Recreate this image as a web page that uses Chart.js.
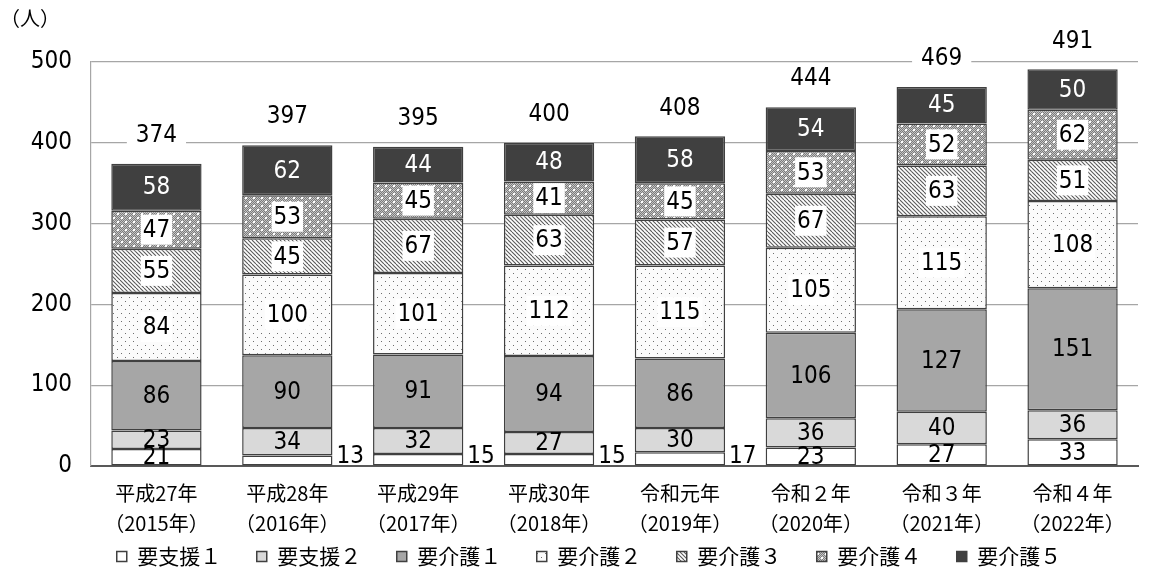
<!DOCTYPE html>
<html>
<head>
<meta charset="utf-8">
<script src="https://cdn.jsdelivr.net/npm/chart.js@4.4.0/dist/chart.umd.min.js"></script>
<style>
  html, body { margin: 0; padding: 0; background: #fff; }
  #wrap { width: 1155px; height: 577px; position: relative; }
</style>
</head>
<body>
<div id="wrap"><canvas id="myChart"></canvas></div>
<script>
const categories = [
  ['平成27年', '（2015年）'],
  ['平成28年', '（2016年）'],
  ['平成29年', '（2017年）'],
  ['平成30年', '（2018年）'],
  ['令和元年', '（2019年）'],
  ['令和２年', '（2020年）'],
  ['令和３年', '（2021年）'],
  ['令和４年', '（2022年）']
];
const seriesNames = ['要支援１', '要支援２', '要介護１', '要介護２', '要介護３', '要介護４', '要介護５'];
const shien1  = [21, 13, 15, 15, 17, 23, 27, 33];
const shien2  = [23, 34, 32, 27, 30, 36, 40, 36];
const kaigo1  = [86, 90, 91, 94, 86, 106, 127, 151];
const kaigo2  = [84, 100, 101, 112, 115, 105, 115, 108];
const kaigo3  = [55, 45, 67, 63, 57, 67, 63, 51];
const kaigo4  = [47, 53, 45, 41, 45, 53, 52, 62];
const kaigo5  = [58, 62, 44, 48, 58, 54, 45, 50];
const yTicks = [0, 100, 200, 300, 400, 500];
const unitLabel = '（人）';

const numFont = '"Liberation Sans Narrow", "DejaVu Sans Condensed", sans-serif';
const jpFont = '"Noto Sans CJK JP", sans-serif';

// small fill patterns like the office chart
function makePattern(kind) {
  const c = document.createElement('canvas');
  c.width = 8; c.height = 8;
  const g = c.getContext('2d');
  if (kind === 'dots') {
    g.fillStyle = '#fbfbfb'; g.fillRect(0, 0, 8, 8);
    g.fillStyle = '#6e6e6e';
    g.fillRect(1, 1, 1, 1); g.fillRect(5, 5, 1, 1);
  } else if (kind === 'diag') {
    g.fillStyle = '#fff'; g.fillRect(0, 0, 8, 8);
    g.strokeStyle = '#5a5a5a'; g.lineWidth = 1.1;
    for (let x = -8; x <= 8; x += 4) {
      g.beginPath(); g.moveTo(x, 0); g.lineTo(x + 8, 8); g.stroke();
    }
  } else if (kind === 'dense') {
    for (let y = 0; y < 8; y++) {
      for (let x = 0; x < 8; x++) {
        g.fillStyle = (x + y) % 2 ? '#7c7c7c' : '#c4c4c4';
        g.fillRect(x, y, 1, 1);
      }
    }
    g.fillStyle = '#fff';
    g.fillRect(1, 1, 2, 2); g.fillRect(5, 5, 2, 2);
  }
  return g.createPattern(c, 'repeat');
}

const seriesData = [shien1, shien2, kaigo1, kaigo2, kaigo3, kaigo4, kaigo5];
const fills = ['#ffffff', '#d9d9d9', '#a6a6a6', makePattern('dots'), makePattern('diag'), makePattern('dense'), '#404040'];
const boxedLabels = [false, false, false, true, true, true, false];
const textColors = ['#000', '#000', '#000', '#000', '#000', '#000', '#fff'];

const totals = categories.map((c, i) => seriesData.reduce((s, arr) => s + arr[i], 0));

const labelPlugin = {
  id: 'labels',
  afterLayout(chart) {
    // legend sits a little right of centre in the original
    chart.legend.left += 20;
    chart.legend.right += 20;
  },
  afterDatasetsDraw(chart) {
    const ctx = chart.ctx;
    ctx.save();
    ctx.font = '24px ' + numFont;
    ctx.textBaseline = 'middle';
    chart.data.datasets.forEach((ds, di) => {
      const meta = chart.getDatasetMeta(di);
      meta.data.forEach((bar, i) => {
        const v = ds.data[i];
        const txt = String(v);
        const w = ctx.measureText(txt).width;
        const cy = (bar.y + bar.base) / 2;
        if (di === 0 && v < 20) {
          // too thin: put it beside the bar
          ctx.textAlign = 'left';
          ctx.fillStyle = '#000';
          ctx.fillText(txt, bar.x + bar.width / 2 + 4, bar.base - 9);
          return;
        }
        ctx.textAlign = 'center';
        if (boxedLabels[di]) {
          ctx.fillStyle = '#fff';
          ctx.fillRect(bar.x - w / 2 - 2, cy - 15, w + 4, 30);
        }
        ctx.fillStyle = textColors[di];
        ctx.fillText(txt, bar.x, cy + 1);
      });
    });
    // totals above the stacks
    const top = chart.getDatasetMeta(chart.data.datasets.length - 1);
    top.data.forEach((bar, i) => {
      const txt = String(totals[i]);
      const w = ctx.measureText(txt).width;
      const y = bar.y - 29;
      ctx.fillStyle = '#fff';
      ctx.fillRect(bar.x - w / 2 - 9, y - 14, w + 18, 28);
      ctx.fillStyle = '#000';
      ctx.textAlign = 'center';
      ctx.fillText(txt, bar.x, y + 1);
    });
    // unit
    ctx.font = '20px ' + jpFont;
    ctx.textAlign = 'left';
    ctx.fillText(unitLabel, 0, 18);
    ctx.restore();
  }
};

const myChart = new Chart(document.getElementById('myChart').getContext('2d'), {
  type: 'bar',
  data: {
    labels: categories,
    datasets: seriesNames.map((name, k) => ({
      label: name,
      data: seriesData[k],
      backgroundColor: fills[k],
      borderColor: '#404040',
      borderWidth: 1.5,
      borderSkipped: false,
      barPercentage: 0.69,
      categoryPercentage: 1
    }))
  },
  options: {
    responsive: true,
    maintainAspectRatio: false,
    animation: false,
    devicePixelRatio: 1,
    layout: { padding: { top: 62, right: 17, bottom: 0, left: 0 } },
    plugins: {
      tooltip: { enabled: false },
      legend: {
        position: 'bottom',
        labels: {
          boxWidth: 10,
          boxHeight: 10,
          padding: 4,
          color: '#000',
          font: { family: jpFont, size: 21 },
          generateLabels: chart => {
            const items = Chart.defaults.plugins.legend.labels.generateLabels(chart);
            // widen the gaps between entries without growing the legend height
            items.forEach((it, k) => { if (k < items.length - 1) it.text = it.text + '\u3000\u2002'; });
            return items;
          }
        }
      }
    },
    scales: {
      x: {
        stacked: true,
        grid: { display: false },
        border: { color: '#595959', width: 2 },
        ticks: {
          color: '#000',
          padding: 4,
          maxRotation: 0,
          font: { family: jpFont, size: 20, lineHeight: 1.5 }
        }
      },
      y: {
        stacked: true,
        min: yTicks[0],
        max: yTicks[yTicks.length - 1],
        afterFit: s => { s.width = 91; },
        afterBuildTicks: s => { s.ticks = yTicks.map(v => ({ value: v })); },
        grid: { color: '#a6a6a6', lineWidth: 1.2, drawTicks: false },
        border: { color: '#a6a6a6', width: 1.2 },
        ticks: {
          color: '#000',
          padding: 19,
          font: { family: numFont, size: 24 }
        }
      }
    }
  },
  plugins: [labelPlugin]
});
</script>
</body>
</html>
